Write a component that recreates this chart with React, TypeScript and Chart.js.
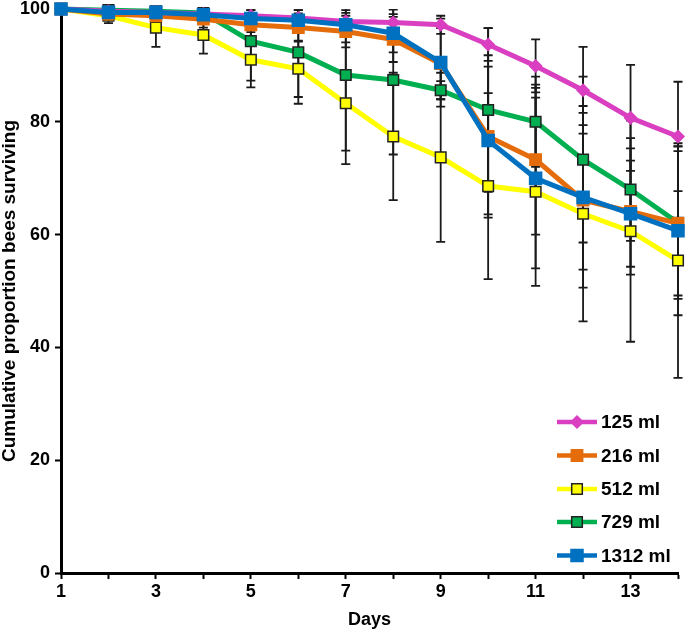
import React, { useEffect, useRef } from 'react';
import { Chart, registerables } from 'chart.js';

Chart.register(...registerables);

const days = [1, 2, 3, 4, 5, 6, 7, 8, 9, 10, 11, 12, 13, 14];
const xLabelDays = [1, 3, 5, 7, 9, 11, 13];
const yTicks = [0, 20, 40, 60, 80, 100];

const seriesNames = ['125 ml', '216 ml', '512 ml', '729 ml', '1312 ml'];

const ml125 = [100, 99.6, 99.4, 99.1, 98.8, 98.4, 97.8, 97.6, 97.2, 93.7, 89.9, 85.6, 80.7, 77.4];
const ml125Err = [0, 0.3, 0.5, 0.7, 1, 1.4, 2, 2.3, 1.6, 2.9, 4.7, 7.7, 9.4, 9.7];

const ml216 = [100, 99.1, 98.8, 98.2, 97.2, 96.7, 96.0, 94.6, 90.3, 77.4, 73.3, 66.1, 64.1, 62.0];
const ml216Err = [0, 0.8, 1.2, 1.5, 2, 2.5, 2.8, 4, 6.3, 14.4, 13.3, 15.5, 11.2, 12.8];

const ml512 = [100, 98.8, 96.7, 95.4, 91.0, 89.4, 83.3, 77.4, 73.7, 68.6, 67.6, 63.7, 60.6, 55.4];
const ml512Err = [0, 1.3, 3.4, 3.3, 4.9, 5, 10.8, 11.3, 15, 16.5, 16.7, 19.1, 19.6, 20.8];

const ml729 = [100, 99.8, 99.6, 99.3, 94.3, 92.3, 88.3, 87.4, 85.6, 82.1, 80.0, 73.3, 68.0, 62.1];
const ml729Err = [0, 0.8, 1, 1.2, 7, 9.1, 13.4, 13.2, 1.6, 14.5, 8, 14.7, 9.1, 13.5];

const ml1312 = [100, 99.4, 99.4, 99.0, 98.3, 98.0, 97.2, 95.7, 90.5, 76.7, 70.0, 66.6, 63.7, 60.7];
const ml1312Err = [0, 0.5, 0.6, 0.8, 1.5, 1.8, 2.1, 3.4, 7.8, 13.1, 16, 12.8, 9.4, 15];

const FONT = "'Liberation Sans', Arial, sans-serif";

type Series = {
  name: string;
  values: number[];
  errs: number[];
  color: string;
  pointStyle: string;
  radius: number;
  border: string;
  order: number;
};

const series: Series[] = [
  { name: seriesNames[0], values: ml125, errs: ml125Err, color: '#d93fc0', pointStyle: 'rectRot', radius: 6, border: '#d93fc0', order: 1 },
  { name: seriesNames[1], values: ml216, errs: ml216Err, color: '#e46c0a', pointStyle: 'rect', radius: 8, border: '#e46c0a', order: 2 },
  { name: seriesNames[2], values: ml512, errs: ml512Err, color: '#ffff00', pointStyle: 'rect', radius: 7.5, border: '#222222', order: 4 },
  { name: seriesNames[3], values: ml729, errs: ml729Err, color: '#00b050', pointStyle: 'rect', radius: 7.5, border: '#222222', order: 3 },
  { name: seriesNames[4], values: ml1312, errs: ml1312Err, color: '#0070c0', pointStyle: 'rect', radius: 8.5, border: '#0070c0', order: 0 },
];

const errorBarPlugin = {
  id: 'errorBars',
  beforeDatasetsDraw(chart: any) {
    const { ctx, chartArea, scales } = chart;
    const xs = scales.x;
    const ys = scales.y;
    ctx.save();
    ctx.beginPath();
    ctx.rect(chartArea.left - 10, chartArea.top, chartArea.right - chartArea.left + 20, chartArea.bottom - chartArea.top);
    ctx.clip();
    ctx.strokeStyle = '#1a1a1a';
    ctx.lineWidth = 1.8;
    series.forEach((s) => {
      s.values.forEach((v, i) => {
        const e = s.errs[i];
        if (!e) return;
        const x = xs.getPixelForValue(days[i]);
        const yTop = ys.getPixelForValue(v + e);
        const yBot = ys.getPixelForValue(v - e);
        ctx.beginPath();
        ctx.moveTo(x, yTop);
        ctx.lineTo(x, yBot);
        ctx.moveTo(x - 4.5, yTop);
        ctx.lineTo(x + 4.5, yTop);
        ctx.moveTo(x - 4.5, yBot);
        ctx.lineTo(x + 4.5, yBot);
        ctx.stroke();
      });
    });
    ctx.restore();
  },
};

const legendPlugin = {
  id: 'customLegend',
  afterDraw(chart: any) {
    const { ctx } = chart;
    const rowY = [422, 455.5, 489, 522, 555.5];
    const x0 = 557;
    const x1 = 597;
    const mx = 577;
    ctx.save();
    series.forEach((s, i) => {
      const y = rowY[i];
      ctx.strokeStyle = s.color;
      ctx.lineWidth = 4.5;
      ctx.beginPath();
      ctx.moveTo(x0, y);
      ctx.lineTo(x1, y);
      ctx.stroke();
      ctx.fillStyle = s.color;
      ctx.strokeStyle = s.border;
      ctx.lineWidth = 1.5;
      if (s.pointStyle === 'rectRot') {
        const r = s.radius;
        ctx.beginPath();
        ctx.moveTo(mx - r, y);
        ctx.lineTo(mx, y - r);
        ctx.lineTo(mx + r, y);
        ctx.lineTo(mx, y + r);
        ctx.closePath();
        ctx.fill();
        ctx.stroke();
      } else {
        const h = s.radius * Math.SQRT1_2;
        ctx.beginPath();
        ctx.rect(mx - h, y - h, 2 * h, 2 * h);
        ctx.fill();
        ctx.stroke();
      }
      ctx.fillStyle = '#000000';
      ctx.font = `bold 19px ${FONT}`;
      ctx.textAlign = 'left';
      ctx.textBaseline = 'middle';
      ctx.fillText(s.name, 601, y + 1);
    });
    ctx.restore();
  },
};

export default function App() {
  const canvasRef = useRef<HTMLCanvasElement | null>(null);

  useEffect(() => {
    if (!canvasRef.current) return;
    const chart = new Chart(canvasRef.current, {
      type: 'line',
      data: {
        datasets: series.map((s) => ({
          label: s.name,
          data: s.values.map((v, i) => ({ x: days[i], y: v })),
          borderColor: s.color,
          backgroundColor: s.color,
          borderWidth: 5,
          pointStyle: s.pointStyle as any,
          pointRadius: s.radius,
          pointBackgroundColor: s.color,
          pointBorderColor: s.border,
          pointBorderWidth: 1.5,
          tension: 0,
          order: s.order,
          clip: 12,
        })),
      },
      options: {
        animation: false,
        responsive: false,
        devicePixelRatio: 1,
        layout: { autoPadding: false, padding: { top: 9, right: 7, left: 0, bottom: 0 } },
        plugins: {
          legend: { display: false },
          tooltip: { enabled: false },
        },
        scales: {
          x: {
            type: 'linear',
            min: 1,
            max: 14,
            afterBuildTicks: (scale: any) => {
              scale.ticks = days.map((d) => ({ value: d }));
            },
            afterFit: (scale: any) => {
              scale.height = 60;
              scale.paddingLeft = 0;
              scale.paddingRight = 0;
            },
            ticks: {
              autoSkip: false,
              maxRotation: 0,
              color: '#000',
              padding: 4,
              font: { family: FONT, size: 18, weight: 'bold', lineHeight: 1 },
              callback: (v: any) => (xLabelDays.includes(Number(v)) ? String(v) : ''),
            },
            grid: {
              drawOnChartArea: false,
              drawTicks: true,
              tickLength: 6,
              color: '#000',
              tickWidth: 2,
            },
            border: { display: true, color: '#000', width: 3 },
            title: {
              display: true,
              text: 'Days',
              color: '#000',
              font: { family: FONT, size: 18, weight: 'bold', lineHeight: 1 },
              padding: { top: 0, bottom: 4 },
            },
          },
          y: {
            type: 'linear',
            min: 0,
            max: 100,
            afterBuildTicks: (scale: any) => {
              scale.ticks = yTicks.map((t) => ({ value: t }));
            },
            afterFit: (scale: any) => {
              scale.width = 61;
              scale.paddingTop = 0;
              scale.paddingBottom = 0;
            },
            ticks: {
              color: '#000',
              padding: 5,
              font: { family: FONT, size: 18, weight: 'bold', lineHeight: 1 },
            },
            grid: {
              drawOnChartArea: false,
              drawTicks: true,
              tickLength: 6,
              color: '#000',
              tickWidth: 2,
            },
            border: { display: true, color: '#000', width: 3 },
            title: {
              display: true,
              text: 'Cumulative proportion bees surviving',
              color: '#000',
              font: { family: FONT, size: 19, weight: 'bold', lineHeight: 1 },
              padding: { top: 0, bottom: 0 },
            },
          },
        },
      },
      plugins: [errorBarPlugin, legendPlugin],
    });
    return () => chart.destroy();
  }, []);

  return (
    <div style={{ position: 'absolute', left: 0, top: 0, width: 685, height: 633, background: '#fff' }}>
      <canvas ref={canvasRef} width={685} height={633} style={{ width: 685, height: 633, display: 'block' }} />
    </div>
  );
}
